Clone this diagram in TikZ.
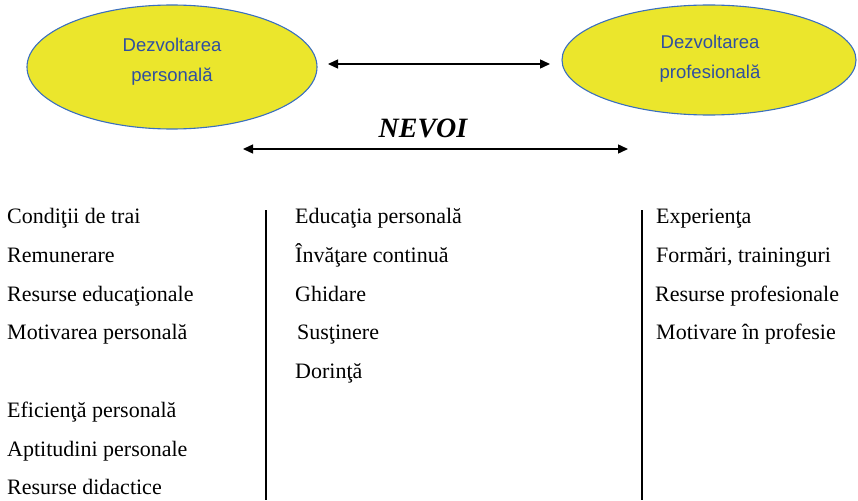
\documentclass[tikz,border=0pt]{standalone}
\usepackage{fontspec}
\setmainfont{Liberation Serif}
\newfontfamily\ellfont{Liberation Sans}
\usetikzlibrary{shapes.geometric,arrows.meta}
\definecolor{ellfill}{HTML}{EBE62C}
\definecolor{elldraw}{HTML}{3A6FBF}
\definecolor{elltext}{HTML}{2F4FA0}
\tikzset{
  x=1pt,y=-1pt,
  ell/.style={ellipse,draw=elldraw,fill=ellfill,line width=1.1pt,inner sep=0pt},
  elltxt/.style={align=center,inner sep=0pt,text=elltext,font=\ellfont\fontsize{18.5}{30}\selectfont},
  item/.style={anchor=base west,inner sep=0pt,font=\fontsize{22}{26}\selectfont},
  arr/.style={line width=1.4pt,{Triangle[length=10pt,width=9pt]}-{Triangle[length=10pt,width=9pt]}},
  sep/.style={line width=1.2pt}
}
\begin{document}
\begin{tikzpicture}
\useasboundingbox (0,0) rectangle (858,500);
\node[ell,minimum width=290,minimum height=124] (e1) at (172,67) {};
\node[elltxt] (e1t) at (172,62) {Dezvoltarea\\personală};
\node[ell,minimum width=294,minimum height=110] (e2) at (709,60) {};
\node[elltxt] (e2t) at (710,59) {Dezvoltarea\\profesională};
\coordinate (a1) at (328,64);
\coordinate (a2) at (550,64);
\draw[arr] (a1) -- (a2);
\node[anchor=base,inner sep=0pt,font=\bfseries\itshape\fontsize{28}{30}\selectfont] (nevoi) at (423,137) {NEVOI};
\coordinate (b1) at (243,149);
\coordinate (b2) at (628,149);
\draw[arr] (b1) -- (b2);
\coordinate (s1t) at (266,210);
\coordinate (s1b) at (266,500);
\coordinate (s2t) at (642,210);
\coordinate (s2b) at (642,500);
\draw[sep] (s1t) -- (s1b);
\draw[sep] (s2t) -- (s2b);
\node[item] (c1) at (7,223) {Condiţii de trai};
\node[item] (c2) at (7,262) {Remunerare};
\node[item] (c3) at (7,301) {Resurse educaţionale};
\node[item] (c4) at (7,339) {Motivarea personală};
\node[item] (c5) at (7,417) {Eficienţă personală};
\node[item] (c6) at (7,456) {Aptitudini personale};
\node[item] (c7) at (7,494) {Resurse didactice};
\node[item] (m1) at (295,223) {Educaţia personală};
\node[item] (m2) at (295,262) {Învăţare continuă};
\node[item] (m3) at (295,301) {Ghidare};
\node[item] (m4) at (297,339) {Susţinere};
\node[item] (m5) at (295,378) {Dorinţă};
\node[item] (r1) at (656,223) {Experienţa};
\node[item] (r2) at (656,262) {Formări, traininguri};
\node[item] (r3) at (655,301) {Resurse profesionale};
\node[item] (r4) at (656,339) {Motivare în profesie};
\end{tikzpicture}
\end{document}
